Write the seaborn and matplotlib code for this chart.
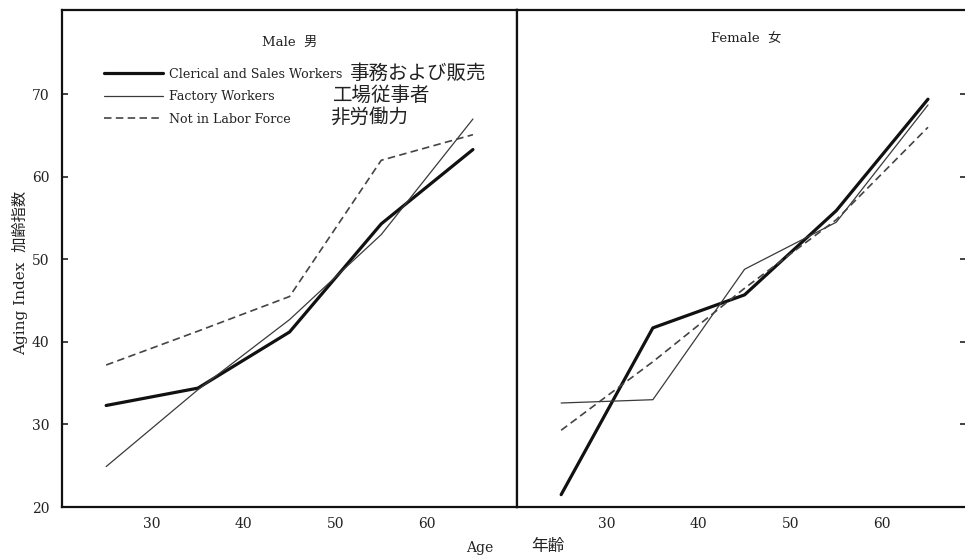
import matplotlib
matplotlib.use("Agg")
import matplotlib.pyplot as plt
import seaborn as sns
import pandas as pd

# Age group midpoints
ages = [25, 35, 45, 55, 65]

# Aging index by occupation group, male
male_clerical = [32.3, 34.4, 41.2, 54.3, 63.3]
male_factory = [24.9, 34.2, 42.7, 53.0, 67.0]
male_not_labor = [37.2, 41.3, 45.5, 62.0, 65.1]

# Aging index by occupation group, female
female_clerical = [21.5, 41.7, 45.7, 55.9, 69.4]
female_factory = [32.6, 33.0, 48.8, 54.5, 68.7]
female_not_labor = [29.3, 37.6, 46.5, 54.8, 66.0]

series_en = ["Clerical and Sales Workers", "Factory Workers", "Not in Labor Force"]
series_ja = ["事務および販売", "工場従事者", "非労働力"]
panel_titles = ["Male  男", "Female  女"]
y_ticks = [20, 30, 40, 50, 60, 70]
x_ticks = [30, 40, 50, 60]

sns.set_style("white")
plt.rcParams["font.family"] = ["DejaVu Serif", "Noto Sans CJK JP"]

styles = [
    dict(color="#111111", linewidth=2.3, linestyle="-"),
    dict(color="#3a3a3a", linewidth=0.9, linestyle="-"),
    dict(color="#444444", linewidth=1.2, linestyle=(0, (4.5, 2.6))),
]

fig = plt.figure(figsize=(9.65, 5.6), dpi=100)
bottom, height = 0.0946, 0.8875
ax_m = fig.add_axes([0.0643, bottom, 0.4715, height])
ax_f = fig.add_axes([0.5358, bottom, 0.4653, height])

male = [male_clerical, male_factory, male_not_labor]
female = [female_clerical, female_factory, female_not_labor]

for ax, data in ((ax_m, male), (ax_f, female)):
    for vals, name, st in zip(data, series_en, styles):
        df = pd.DataFrame({"age": ages, "index": vals})
        sns.lineplot(data=df, x="age", y="index", ax=ax, label=name,
                     legend=False, **st)
    ax.set_ylim(20, 80.2)
    ax.set_xticks(x_ticks)
    ax.set_yticks(y_ticks)
    ax.set_xlabel("")
    ax.set_ylabel("")
    for s in ax.spines.values():
        s.set_linewidth(1.6)
        s.set_color("#111111")
    ax.tick_params(axis="both", direction="in", length=4.5, width=1.2,
                   color="#222222", labelsize=10, labelcolor="#222222")
    ax.tick_params(axis="x", pad=7)

ax_m.set_xlim(20.19, 69.81)
ax_f.set_xlim(20.19, 69.15)

# left panel: y labels on the left
ax_m.tick_params(axis="y", left=True, right=False, labelleft=True, pad=9)
# right panel: unlabelled ticks on the far right, no right border
ax_f.spines["right"].set_visible(False)
ax_f.tick_params(axis="y", left=False, right=True, labelleft=False,
                 labelright=False)

# panel titles
ax_m.text(0.5, 0.935, panel_titles[0], transform=ax_m.transAxes,
          ha="center", va="center", fontsize=9.5, color="#222222")
ax_f.text(0.51, 0.943, panel_titles[1], transform=ax_f.transAxes,
          ha="center", va="center", fontsize=9.5, color="#222222")

# legend inside the male panel, Japanese names set beside it
leg = ax_m.legend(loc="upper left", bbox_to_anchor=(0.093, 0.884),
                  frameon=False, fontsize=9.1, handlelength=4.6,
                  handletextpad=0.55, labelspacing=0.76, borderpad=0,
                  borderaxespad=0)
for t in leg.get_texts():
    t.set_color("#222222")
ja_pos = [(349, 73), (333, 95), (330, 117)]
for (px, py), txt in zip(ja_pos, series_ja):
    fig.text(px / 965, 1 - py / 560, txt, ha="left", va="center",
             fontsize=14, family="Noto Sans CJK JP", color="#222222")

# axis titles
fig.text(0.021, 0.512, "Aging Index  加齢指数", rotation=90, ha="center",
         va="center", fontsize=11, color="#222222")
fig.text(480 / 965, 1 - 548 / 560, "Age", ha="center", va="center",
         fontsize=10, color="#222222")
fig.text(548 / 965, 1 - 546 / 560, "年齢", ha="center", va="center",
         fontsize=12, family="Noto Sans CJK JP", color="#222222")

fig.savefig("out.png", dpi=100)
